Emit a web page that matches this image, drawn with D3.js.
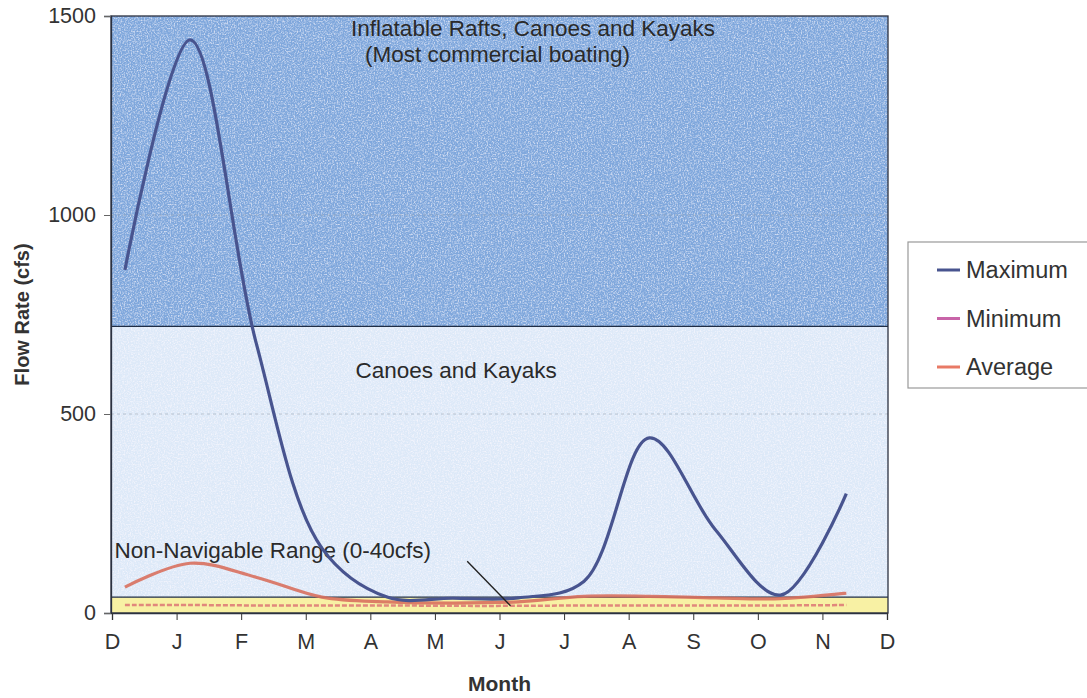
<!DOCTYPE html>
<html>
<head>
<meta charset="utf-8">
<script src="https://cdn.jsdelivr.net/npm/d3@7"></script>
<style>
  body { margin: 0; background: #fff; }
  text { font-family: "Liberation Sans", Arial, sans-serif; }
</style>
</head>
<body>
<div id="chart"></div>
<script>
// month tick labels (Dec .. Dec)
const monthLabels = ['D', 'J', 'F', 'M', 'A', 'M', 'J', 'J', 'A', 'S', 'O', 'N', 'D'];
// where each monthly sample sits along the month axis
const samplePos = [0.2, 1.21, 2.23, 3.25, 4.26, 5.28, 6.29, 7.31, 8.32, 9.34, 10.35, 11.37];
// flow values (cfs)
const maximum = [862, 1440, 680, 163, 40, 37, 38, 80, 440, 210, 45, 300];
const minimum = [20, 20, 19, 19, 19, 18, 18, 19, 19, 19, 19, 20];
const average = [65, 125, 90, 40, 28, 25, 28, 42, 42, 38, 36, 50];
const yTicks = [0, 500, 1000, 1500];
// boating zones (cfs limits)
const zoneLimits = [0, 40, 720, 1500];
const seriesNames = ['Maximum', 'Minimum', 'Average'];

const width = 1087, height = 698;
const plotL = 111, plotR = 888, plotT = 16, plotB = 613;

const svg = d3.select('#chart')
  .append('svg')
  .attr('width', width)
  .attr('height', height);

const x = d3.scaleLinear().domain([0, 12]).range([plotL + 1, plotR - 1]);
const y = d3.scaleLinear().domain([0, 1500]).range([plotB, plotT]);

const defs = svg.append('defs');

// speckle texture like the scanned original
const noise = defs.append('filter')
  .attr('id', 'speckle')
  .attr('x', 0).attr('y', 0).attr('width', 1).attr('height', 1);
noise.append('feTurbulence')
  .attr('type', 'fractalNoise')
  .attr('baseFrequency', 0.7)
  .attr('numOctaves', 2)
  .attr('seed', 4);
noise.append('feColorMatrix')
  .attr('type', 'matrix')
  .attr('values', '0 0 0 0 1  0 0 0 0 0.96  0 0 0 0 1  2.6 0 0 0 -1.1');

const zoneColors = ['#f8f1a4', '#dde9f8', '#7fa7dc'];

const zones = svg.append('g');
zones.selectAll('rect.zone')
  .data(d3.pairs(zoneLimits))
  .enter().append('rect')
  .attr('class', 'zone')
  .attr('x', plotL)
  .attr('width', plotR - plotL)
  .attr('y', d => y(d[1]))
  .attr('height', d => y(d[0]) - y(d[1]))
  .attr('fill', (d, i) => zoneColors[i]);

// texture on the two blue zones
zones.selectAll('rect.tex')
  .data(d3.pairs(zoneLimits).slice(1))
  .enter().append('rect')
  .attr('class', 'tex')
  .attr('x', plotL)
  .attr('width', plotR - plotL)
  .attr('y', d => y(d[1]))
  .attr('height', d => y(d[0]) - y(d[1]))
  .attr('fill', '#fff')
  .attr('opacity', 0.65)
  .attr('filter', 'url(#speckle)');

// faint gridlines
svg.append('g')
  .selectAll('line')
  .data(yTicks.slice(1, 3))
  .enter().append('line')
  .attr('x1', plotL).attr('x2', plotR)
  .attr('y1', d => y(d)).attr('y2', d => y(d))
  .attr('stroke', '#9aa6b4')
  .attr('stroke-width', 1)
  .attr('stroke-dasharray', '3,3')
  .attr('opacity', 0.6);

// zone boundaries
svg.append('g')
  .selectAll('line')
  .data(zoneLimits.slice(1, 3))
  .enter().append('line')
  .attr('x1', plotL).attr('x2', plotR)
  .attr('y1', d => y(d)).attr('y2', d => y(d))
  .attr('stroke', '#1f2d45')
  .attr('stroke-width', 1.3);

// frame
svg.append('rect')
  .attr('x', plotL).attr('y', plotT)
  .attr('width', plotR - plotL).attr('height', plotB - plotT)
  .attr('fill', 'none')
  .attr('stroke', '#2b3140')
  .attr('stroke-width', 1.3);

// zone labels
const notes = svg.append('g')
  .attr('font-size', 22.5)
  .attr('fill', '#2a2a2a');
notes.append('text')
  .attr('x', x(6.52)).attr('y', y(1450))
  .attr('text-anchor', 'middle')
  .text('Inflatable Rafts, Canoes and Kayaks');
notes.append('text')
  .attr('x', x(5.97)).attr('y', y(1385))
  .attr('text-anchor', 'middle')
  .text('(Most commercial boating)');
notes.append('text')
  .attr('x', x(3.77)).attr('y', y(590))
  .text('Canoes and Kayaks');
notes.append('text')
  .attr('x', x(0.04)).attr('y', y(137))
  .text('Non-Navigable Range (0-40cfs)');

// series lines
const line = d3.line()
  .x((d, i) => x(samplePos[i]))
  .y(d => y(d))
  .curve(d3.curveCatmullRom.alpha(0.5));

svg.append('path')
  .datum(minimum)
  .attr('d', line)
  .attr('fill', 'none')
  .attr('stroke', '#de7c78')
  .attr('stroke-width', 2.5)
  .attr('stroke-dasharray', '5,2')
  .attr('opacity', 0.9);

svg.append('path')
  .datum(average)
  .attr('d', line)
  .attr('fill', 'none')
  .attr('stroke', '#d8705e')
  .attr('stroke-width', 3.2)
  .attr('opacity', 0.9);

svg.append('path')
  .datum(maximum)
  .attr('d', line)
  .attr('fill', 'none')
  .attr('stroke', '#48548f')
  .attr('stroke-width', 3.2);

// pointer to the non-navigable band
svg.append('line')
  .attr('x1', x(5.5)).attr('y1', y(130))
  .attr('x2', x(6.17)).attr('y2', y(18))
  .attr('stroke', '#222')
  .attr('stroke-width', 1.4);

// y axis
const yAxis = svg.append('g')
  .attr('transform', `translate(${plotL},0)`)
  .call(d3.axisLeft(y).tickValues(yTicks).tickFormat(d3.format('d')).tickSize(7).tickPadding(8));
yAxis.select('.domain').attr('stroke', '#2b3140').attr('stroke-width', 1.3);
yAxis.selectAll('.tick line').attr('stroke', '#666');
yAxis.selectAll('text')
  .attr('font-size', 21.5)
  .attr('fill', '#333')
  .attr('font-family', '"Liberation Sans", Arial, sans-serif');

// x axis
const xAxis = svg.append('g')
  .attr('transform', `translate(0,${plotB})`)
  .call(d3.axisBottom(x)
    .tickValues(d3.range(monthLabels.length))
    .tickFormat(i => monthLabels[i])
    .tickSize(7).tickPadding(14));
xAxis.select('.domain').attr('stroke', '#2b3140').attr('stroke-width', 1.3);
xAxis.selectAll('.tick line').attr('stroke', '#333');
xAxis.selectAll('text')
  .attr('font-size', 21.5)
  .attr('fill', '#333')
  .attr('font-family', '"Liberation Sans", Arial, sans-serif');

// axis titles
svg.append('text')
  .attr('x', (plotL + plotR) / 2).attr('y', 691)
  .attr('text-anchor', 'middle')
  .attr('font-size', 21)
  .attr('font-weight', 'bold')
  .attr('fill', '#333')
  .text('Month');

svg.append('text')
  .attr('transform', `translate(29,${(plotT + plotB) / 2}) rotate(-90)`)
  .attr('text-anchor', 'middle')
  .attr('font-size', 20)
  .attr('font-weight', 'bold')
  .attr('fill', '#333')
  .text('Flow Rate (cfs)');

// legend
const legendColors = ['#48548f', '#c864a8', '#e87a66'];
const legend = svg.append('g').attr('transform', 'translate(908,242)');
legend.append('rect')
  .attr('width', 200).attr('height', 146)
  .attr('fill', '#fff')
  .attr('stroke', '#999')
  .attr('stroke-width', 1.2);
const item = legend.selectAll('g.item')
  .data(seriesNames)
  .enter().append('g')
  .attr('class', 'item')
  .attr('transform', (d, i) => `translate(0,${28 + i * 48.5})`);
item.append('line')
  .attr('x1', 29).attr('x2', 52)
  .attr('stroke', (d, i) => legendColors[i])
  .attr('stroke-width', 3);
item.append('text')
  .attr('x', 58).attr('y', 8)
  .attr('font-size', 23.5)
  .attr('fill', '#333')
  .text(d => d);
</script>
</body>
</html>
